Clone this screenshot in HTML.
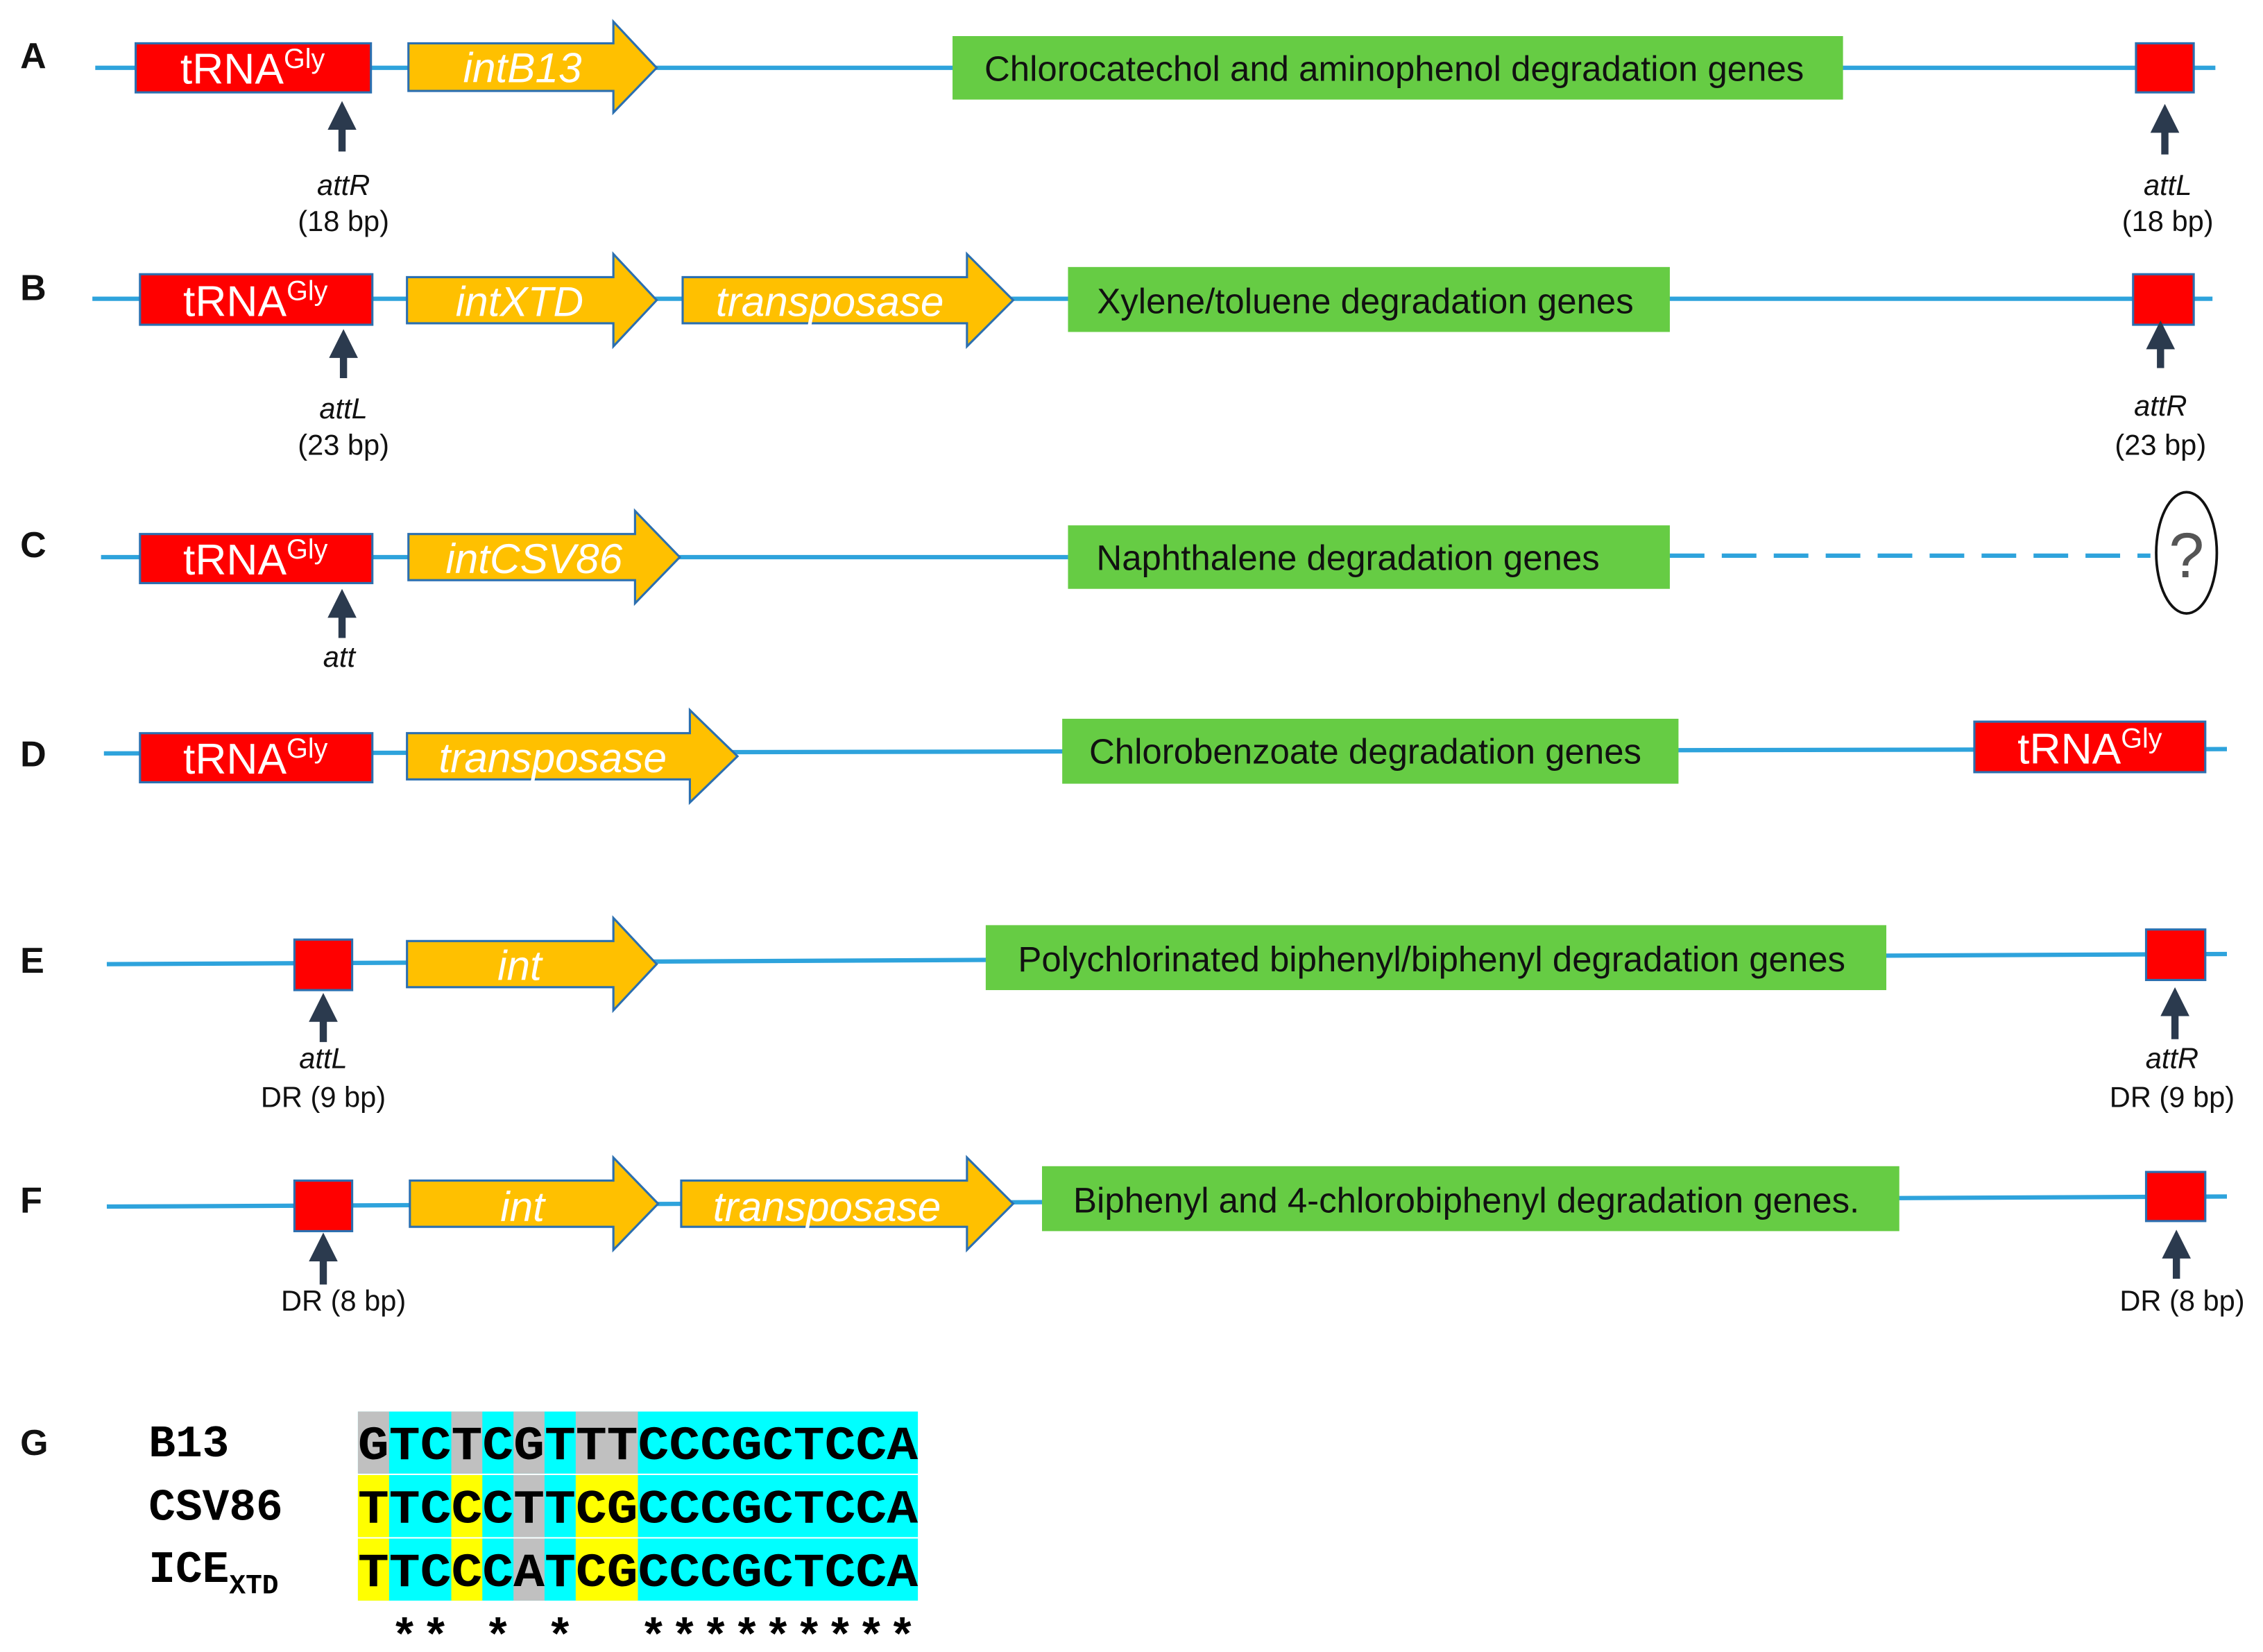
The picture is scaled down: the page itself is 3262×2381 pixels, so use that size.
<!DOCTYPE html>
<html><head><meta charset="utf-8"><style>html,body{margin:0;padding:0;background:#fff}svg{display:block}</style></head>
<body>
<svg width="3262" height="2381" viewBox="0 0 1568 1144.6" preserveAspectRatio="none" xmlns="http://www.w3.org/2000/svg" font-family="Liberation Sans, sans-serif">
<defs>
<marker id="ah" markerWidth="4" markerHeight="4" refX="2" refY="2" orient="auto" markerUnits="strokeWidth"><path d="M0,0 L4,2 L0,4 z" fill="#2b3a4e"/></marker>
</defs>
<g font-weight="bold" font-size="25" fill="#111">
<text x="14" y="47">A</text><text x="14" y="208">B</text><text x="14" y="386">C</text>
<text x="14" y="531">D</text><text x="14" y="674">E</text><text x="14" y="840">F</text><text x="14" y="1008">G</text>
</g>
<g stroke="#2ea3dc" stroke-width="3" fill="none">
<line x1="66" y1="47" x2="1535" y2="47"/>
<line x1="64" y1="207" x2="1533" y2="207"/>
<line x1="70" y1="386" x2="740" y2="386"/>
<line x1="1157" y1="385" x2="1490" y2="385" stroke-dasharray="24,12"/>
<line x1="72" y1="522" x2="1543" y2="519"/>
<line x1="74" y1="668" x2="1543" y2="661"/>
<line x1="74" y1="836" x2="1543" y2="829"/>
</g>
<g fill="#ff0000" stroke="#2b6fb0" stroke-width="1.5">
<rect x="94" y="30" width="163" height="34"/><rect x="1480" y="30" width="40" height="34"/>
<rect x="97" y="190" width="161" height="35"/><rect x="1478" y="190" width="42" height="35"/>
<rect x="97" y="370" width="161" height="34"/>
<rect x="97" y="508" width="161" height="34"/><rect x="1368" y="500" width="160" height="35"/>
<rect x="204" y="651" width="40" height="35"/><rect x="1487" y="644" width="41" height="35"/>
<rect x="204" y="818" width="40" height="35"/><rect x="1487" y="812" width="41" height="34"/>
</g>
<g fill="#fff" font-size="30" text-anchor="middle">
<text x="175" y="58">tRNA<tspan font-size="19" dy="-11">Gly</tspan></text>
<text x="177" y="219">tRNA<tspan font-size="19" dy="-11">Gly</tspan></text>
<text x="177" y="398">tRNA<tspan font-size="19" dy="-11">Gly</tspan></text>
<text x="177" y="536">tRNA<tspan font-size="19" dy="-11">Gly</tspan></text>
<text x="1448" y="529">tRNA<tspan font-size="19" dy="-11">Gly</tspan></text>
</g>
<g fill="#ffc000" stroke="#2b6fb0" stroke-width="1.5">
<path d="M283,30 H425 V15 L455,47 L425,78 V63 H283 Z"/>
<path d="M282,192 H425 V176 L455,208 L425,240 V224 H282 Z"/>
<path d="M473,192 H670 V176 L702,208 L670,240 V224 H473 Z"/>
<path d="M283,370 H440 V354 L471,386 L440,418 V402 H283 Z"/>
<path d="M282,508 H478 V492 L511,524 L478,556 V540 H282 Z"/>
<path d="M282,652 H425 V636 L455,668 L425,700 V684 H282 Z"/>
<path d="M284,818 H425 V802 L456,834 L425,866 V850 H284 Z"/>
<path d="M472,818 H670 V802 L702,834 L670,866 V850 H472 Z"/>
</g>
<g fill="#fff" font-size="29" font-style="italic" text-anchor="middle">
<text x="362" y="57">intB13</text>
<text x="360" y="219">intXTD</text>
<text x="575" y="219">transposase</text>
<text x="370" y="397">intCSV86</text>
<text x="383" y="535">transposase</text>
<text x="360" y="679">int</text>
<text x="362" y="846">int</text>
<text x="573" y="846">transposase</text>
</g>
<g fill="#66cc44">
<rect x="660" y="25" width="617" height="44"/>
<rect x="740" y="185" width="417" height="45"/>
<rect x="740" y="364" width="417" height="44"/>
<rect x="736" y="498" width="427" height="45"/>
<rect x="683" y="641" width="624" height="45"/>
<rect x="722" y="808" width="594" height="45"/>
</g>
<g fill="#111" font-size="24.5" text-anchor="middle">
<text x="966" y="56">Chlorocatechol and aminophenol degradation genes</text>
<text x="946" y="217">Xylene/toluene  degradation genes</text>
<text x="934" y="395">Naphthalene  degradation genes</text>
<text x="946" y="529">Chlorobenzoate  degradation genes</text>
<text x="992" y="673">Polychlorinated  biphenyl/biphenyl  degradation genes</text>
<text x="1016" y="840">Biphenyl and 4-chlorobiphenyl degradation genes.</text>
</g>
<ellipse cx="1515" cy="383" rx="21" ry="42" fill="#fff" stroke="#111" stroke-width="1.8"/>
<text x="1515" y="400" font-size="44" text-anchor="middle" fill="#555">?</text>
<g stroke="#2b3a4e" stroke-width="5" marker-end="url(#ah)">
<line x1="237" y1="105" x2="237" y2="80"/><line x1="1500" y1="107" x2="1500" y2="82"/>
<line x1="238" y1="262" x2="238" y2="238"/><line x1="1497" y1="255" x2="1497" y2="232"/>
<line x1="237" y1="442" x2="237" y2="418"/>
<line x1="224" y1="722" x2="224" y2="698"/><line x1="1507" y1="720" x2="1507" y2="694"/>
<line x1="224" y1="890" x2="224" y2="864"/><line x1="1508" y1="886" x2="1508" y2="862"/>
</g>
<g fill="#111" font-size="20" text-anchor="middle">
<text x="238" y="135" font-style="italic">attR</text><text x="238" y="160">(18 bp)</text>
<text x="1502" y="135" font-style="italic">attL</text><text x="1502" y="160">(18 bp)</text>
<text x="238" y="290" font-style="italic">attL</text><text x="238" y="315">(23 bp)</text>
<text x="1497" y="288" font-style="italic">attR</text><text x="1497" y="315">(23 bp)</text>
<text x="235" y="462" font-style="italic">att</text>
<text x="224" y="740" font-style="italic">attL</text><text x="224" y="767">DR (9 bp)</text>
<text x="1505" y="740" font-style="italic">attR</text><text x="1505" y="767">DR (9 bp)</text>
<text x="238" y="908">DR (8 bp)</text><text x="1512" y="908">DR (8 bp)</text>
</g>
<g font-family="Liberation Mono, monospace" font-weight="bold" font-size="31" fill="#000">
<text x="103" y="1009">B13</text>
<text x="103" y="1053">CSV86</text>
<text x="103" y="1096">ICE<tspan font-size="19" dy="8">XTD</tspan></text>
</g>
<!-- alignment cells -->
<g>
<rect x="248" y="978" width="388" height="43" fill="#00ffff"/>
<rect x="248" y="978" width="21.6" height="43" fill="#c0c0c0"/>
<rect x="312.7" y="978" width="21.5" height="43" fill="#c0c0c0"/>
<rect x="355.8" y="978" width="21.5" height="43" fill="#c0c0c0"/>
<rect x="398.9" y="978" width="43.1" height="43" fill="#c0c0c0"/>
<rect x="248" y="1022" width="388" height="43" fill="#00ffff"/>
<rect x="248" y="1022" width="21.6" height="43" fill="#ffff00"/>
<rect x="312.7" y="1022" width="21.5" height="43" fill="#ffff00"/>
<rect x="355.8" y="1022" width="21.5" height="43" fill="#c0c0c0"/>
<rect x="398.9" y="1022" width="43.1" height="43" fill="#ffff00"/>
<rect x="248" y="1066" width="388" height="43" fill="#00ffff"/>
<rect x="248" y="1066" width="21.6" height="43" fill="#ffff00"/>
<rect x="312.7" y="1066" width="21.5" height="43" fill="#ffff00"/>
<rect x="355.8" y="1066" width="21.5" height="43" fill="#c0c0c0"/>
<rect x="398.9" y="1066" width="43.1" height="43" fill="#ffff00"/>
</g>
<g font-family="Liberation Mono, monospace" font-weight="bold" font-size="33" fill="#000">
<text x="248" y="1011" textLength="388" lengthAdjust="spacingAndGlyphs">GTCTCGTTTCCCGCTCCA</text>
<text x="248" y="1055" textLength="388" lengthAdjust="spacingAndGlyphs">TTCCCTTCGCCCGCTCCA</text>
<text x="248" y="1099" textLength="388" lengthAdjust="spacingAndGlyphs">TTCCCATCGCCCGCTCCA</text>
</g>
<g font-family="Liberation Mono, monospace" font-weight="bold" font-size="32" fill="#000" text-anchor="middle">
<text x="280.3" y="1144">*</text><text x="301.9" y="1144">*</text><text x="345" y="1144">*</text><text x="388.1" y="1144">*</text>
<text x="452.8" y="1144">*</text><text x="474.3" y="1144">*</text><text x="495.9" y="1144">*</text><text x="517.5" y="1144">*</text>
<text x="539" y="1144">*</text><text x="560.6" y="1144">*</text><text x="582.1" y="1144">*</text><text x="603.7" y="1144">*</text><text x="625.2" y="1144">*</text>
</g>
</svg>
</body></html>
